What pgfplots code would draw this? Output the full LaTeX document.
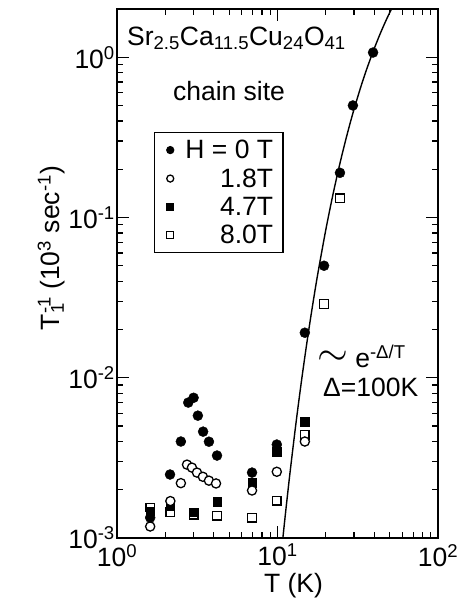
\documentclass[border=0pt]{standalone}
\usepackage{fontspec}
\setmainfont{Liberation Sans}
\usepackage{pgfplots}
\pgfplotsset{compat=1.18}
\begin{document}
\begin{tikzpicture}[font=\fontsize{26.5bp}{31bp}\selectfont]
\useasboundingbox (-117bp,-63bp) rectangle (344bp,538bp);
\begin{axis}[
  at={(0,0)}, anchor=south west,
  scale only axis, width=321bp, height=529bp,
  xmode=log, ymode=log,
  xmin=1, xmax=100, ymin=1e-3, ymax=2,
  xtick={1,10,100},
  xticklabels={10\textsuperscript{0},10\textsuperscript{1},10\textsuperscript{2}},
  ytick={0.001,0.01,0.1,1},
  yticklabels={10\textsuperscript{-3},10\textsuperscript{-2},10\textsuperscript{-1},10\textsuperscript{0}},
  minor xtick={2,3,4,5,6,7,8,9,20,30,40,50,60,70,80,90},
  minor ytick={0.002,0.003,0.004,0.005,0.006,0.007,0.008,0.009,0.02,0.03,0.04,0.05,0.06,0.07,0.08,0.09,0.2,0.3,0.4,0.5,0.6,0.7,0.8,0.9,2},
  tick align=inside,
  major tick length=12bp, minor tick length=6bp,
  every tick/.style={black, line width=1.2bp},
  axis line style={line width=1.6bp},
  xticklabel style={inner sep=2bp, yshift=-4bp},
  yticklabel style={inner sep=2bp},
  xlabel={T (K)},
  ylabel={T\rlap{\textsubscript{1}}\textsuperscript{-1} (10\textsuperscript{3} sec\textsuperscript{-1})},
  xlabel style={at={(ticklabel cs:0.55)}, inner sep=1bp, yshift=-4bp},
  ylabel style={at={(ticklabel cs:0.548)}, inner sep=1bp},
  legend style={at={(rel axis cs:0.115,0.7675)}, anchor=north west, draw=black, line width=1.2bp, fill=white, row sep=4.5bp, inner xsep=8bp, inner ysep=5.5bp, font=\fontsize{26.5bp}{31bp}\selectfont},
  legend image code/.code={\draw[#1] plot coordinates {(0.25cm,0cm)}; \path (0cm,0cm) (0.75cm,0cm);},
  legend image post style={mark size=3.5bp},
  reverse legend,
  clip=true,
]
% 8.0 T
\addplot[only marks, mark=square*, mark size=4.3bp, draw=black, fill=white, line width=1.3bp] coordinates {
(1.61,0.00155) (2.15,0.00145) (3.0,0.00140) (4.2,0.00138) (6.94,0.00134) (9.9,0.00171) (14.8,0.0044) (19.5,0.0289) (24.5,0.132)
};
\addlegendentry{\makebox[86bp][r]{8.0T}}
% 4.7 T
\addplot[only marks, mark=square*, mark size=4.3bp, draw=black, fill=black] coordinates {
(1.61,0.00147) (2.15,0.00158) (3.0,0.00145) (4.2,0.00169) (6.94,0.00222) (9.9,0.00346) (14.8,0.0053)
};
\addlegendentry{\makebox[86bp][r]{4.7T}}
% 1.8 T
\addplot[only marks, mark=*, mark size=4.6bp, draw=black, fill=white, line width=1.3bp] coordinates {
(1.61,0.00118) (2.15,0.00170) (2.50,0.00220) (2.73,0.00287) (2.93,0.00275) (3.15,0.00256) (3.43,0.00241) (3.74,0.00228) (4.14,0.00219) (6.94,0.00198) (9.9,0.00259) (14.8,0.0040)
};
\addlegendentry{\makebox[86bp][r]{1.8T}}
% 0 T
\addplot[only marks, mark=*, mark size=5bp, draw=black, fill=black] coordinates {
(1.61,0.00134) (2.14,0.00249) (2.50,0.0040) (2.78,0.0070) (3.0,0.0075) (3.19,0.0058) (3.44,0.00461) (3.74,0.00399) (4.2,0.00327) (6.94,0.00256) (9.9,0.00383) (14.8,0.0191) (19.5,0.050) (24.5,0.19) (29.5,0.50) (39.4,1.07)
};
\addlegendentry{\makebox[86bp][r]{H = 0 T}}
% fit line ~ exp(-Delta/T)
\addplot[black, line width=1.4bp, smooth, forget plot] coordinates {
(10.6,0.000834) (11,0.001191) (11.5,0.001796) (12,0.002618) (13,0.005099) (14,0.009029) (15,0.01482) (16,0.02285) (17,0.0335) (18,0.04705) (20,0.08386) (22,0.1345) (24,0.1995) (26,0.2784) (28,0.3705) (30,0.4746) (33,0.6504) (36,0.8457) (40,1.129) (44,1.430) (48,1.741) (52,2.057)
};
\node[anchor=base west, inner sep=0pt] at (axis cs:1.154,1.19) {Sr\textsubscript{2.5}Ca\textsubscript{11.5}Cu\textsubscript{24}O\textsubscript{41}};
\node[anchor=base, inner sep=0pt] at (axis cs:4.99,0.54) {chain site};
\node[anchor=base west, inner sep=0pt] at (axis cs:17.6,0.01154) {\raisebox{2bp}{\scalebox{1.6}{$\sim$}} e\textsuperscript{-Δ/T}};
\node[anchor=base west, inner sep=0pt] at (axis cs:19.2,0.00761) {Δ=100K};
\end{axis}
\end{tikzpicture}
\end{document}
